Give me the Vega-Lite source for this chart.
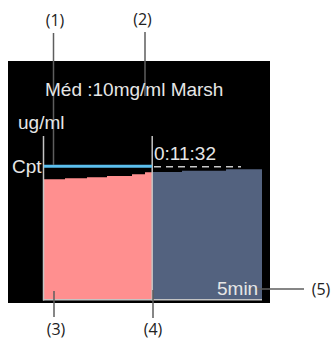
{
  "$schema": "https://vega.github.io/schema/vega-lite/v6.json",
  "width": 331,
  "height": 340,
  "autosize": {"type": "fit", "contains": "padding"},
  "padding": 0,
  "background": "white",
  "config": {"view": {"stroke": null}},
  "layer": [
    {
      "data": {"values": [{"x1": 8, "x2": 270, "y1": 61, "y2": 303}]},
      "mark": {"type": "rect", "color": "#000000"},
      "encoding": {
        "x": {"field": "x1", "type": "quantitative", "scale": {"domain": [0, 331], "nice": false, "zero": false}, "axis": null},
        "x2": {"field": "x2"},
        "y": {"field": "y1", "type": "quantitative", "scale": {"domain": [0, 340], "nice": false, "zero": false, "reverse": true}, "axis": null},
        "y2": {"field": "y2"}
      }
    },
    {
      "data": {"values": [
        {"phase": "past", "t": 44, "c": 179.3},
        {"phase": "past", "t": 65, "c": 178.3},
        {"phase": "past", "t": 87, "c": 177.3},
        {"phase": "past", "t": 107, "c": 176},
        {"phase": "past", "t": 132, "c": 174.3},
        {"phase": "past", "t": 145, "c": 172.3},
        {"phase": "past", "t": 152, "c": 172.3},
        {"phase": "future", "t": 152, "c": 172},
        {"phase": "future", "t": 182, "c": 170.7},
        {"phase": "future", "t": 226, "c": 169.3},
        {"phase": "future", "t": 262, "c": 169.3}
      ]},
      "mark": {"type": "area", "interpolate": "step-after", "opacity": 1},
      "encoding": {
        "x": {"field": "t", "type": "quantitative"},
        "y": {"field": "c", "type": "quantitative"},
        "y2": {"datum": 299.5},
        "color": {"field": "phase", "type": "nominal", "scale": {"domain": ["past", "future"], "range": ["#FF8F8F", "#53627F"]}, "legend": null},
        "detail": {"field": "phase"}
      }
    },
    {
      "data": {"values": [
        {"x1": 43.5, "y1": 136, "x2": 43.5, "y2": 300.5, "kind": "frame"},
        {"x1": 43, "y1": 299.8, "x2": 262, "y2": 299.8, "kind": "frame"},
        {"x1": 152.2, "y1": 136, "x2": 152.2, "y2": 300.5, "kind": "frame"}
      ]},
      "mark": {"type": "rule", "color": "#C4C4C4", "strokeWidth": 1.5},
      "encoding": {
        "x": {"field": "x1", "type": "quantitative"},
        "x2": {"field": "x2"},
        "y": {"field": "y1", "type": "quantitative"},
        "y2": {"field": "y2"}
      }
    },
    {
      "data": {"values": [{"x1": 44, "x2": 152, "y": 166.3}]},
      "mark": {"type": "rule", "color": "#5BBFEE", "strokeWidth": 3},
      "encoding": {
        "x": {"field": "x1", "type": "quantitative"},
        "x2": {"field": "x2"},
        "y": {"field": "y", "type": "quantitative"}
      }
    },
    {
      "data": {"values": [{"x1": 154, "x2": 241, "y": 166.8}]},
      "mark": {"type": "rule", "color": "#C8C8C8", "strokeWidth": 1.5, "strokeDash": [7, 5]},
      "encoding": {
        "x": {"field": "x1", "type": "quantitative"},
        "x2": {"field": "x2"},
        "y": {"field": "y", "type": "quantitative"}
      }
    },
    {
      "data": {"values": [
        {"x1": 53.5, "y1": 33, "x2": 53.5, "y2": 165},
        {"x1": 145, "y1": 32, "x2": 145, "y2": 96},
        {"x1": 54, "y1": 291, "x2": 54, "y2": 317},
        {"x1": 153, "y1": 290, "x2": 153, "y2": 318},
        {"x1": 252, "y1": 289, "x2": 304, "y2": 289}
      ]},
      "mark": {"type": "rule", "color": "#5E5E5E", "strokeWidth": 1.5},
      "encoding": {
        "x": {"field": "x1", "type": "quantitative"},
        "x2": {"field": "x2"},
        "y": {"field": "y1", "type": "quantitative"},
        "y2": {"field": "y2"}
      }
    },
    {
      "data": {"values": [
        {"x": 45, "y": 96, "label": "Méd :10mg/ml Marsh"},
        {"x": 18, "y": 129, "label": "ug/ml"},
        {"x": 12, "y": 173, "label": "Cpt"},
        {"x": 154, "y": 160, "label": "0:11:32"},
        {"x": 217, "y": 295, "label": "5min"}
      ]},
      "mark": {"type": "text", "align": "left", "baseline": "alphabetic", "font": "Liberation Sans", "fontSize": 19, "color": "#E6E6E6"},
      "encoding": {
        "x": {"field": "x", "type": "quantitative"},
        "y": {"field": "y", "type": "quantitative"},
        "text": {"field": "label"}
      }
    },
    {
      "data": {"values": [
        {"x": 55, "y": 20.5, "label": "(1)"},
        {"x": 142.5, "y": 20, "label": "(2)"},
        {"x": 56, "y": 329.5, "label": "(3)"},
        {"x": 153, "y": 329.5, "label": "(4)"},
        {"x": 321, "y": 289.5, "label": "(5)"}
      ]},
      "mark": {"type": "text", "align": "center", "baseline": "middle", "font": "Open Sans", "fontSize": 16, "color": "#222222"},
      "encoding": {
        "x": {"field": "x", "type": "quantitative"},
        "y": {"field": "y", "type": "quantitative"},
        "text": {"field": "label"}
      }
    }
  ]
}
